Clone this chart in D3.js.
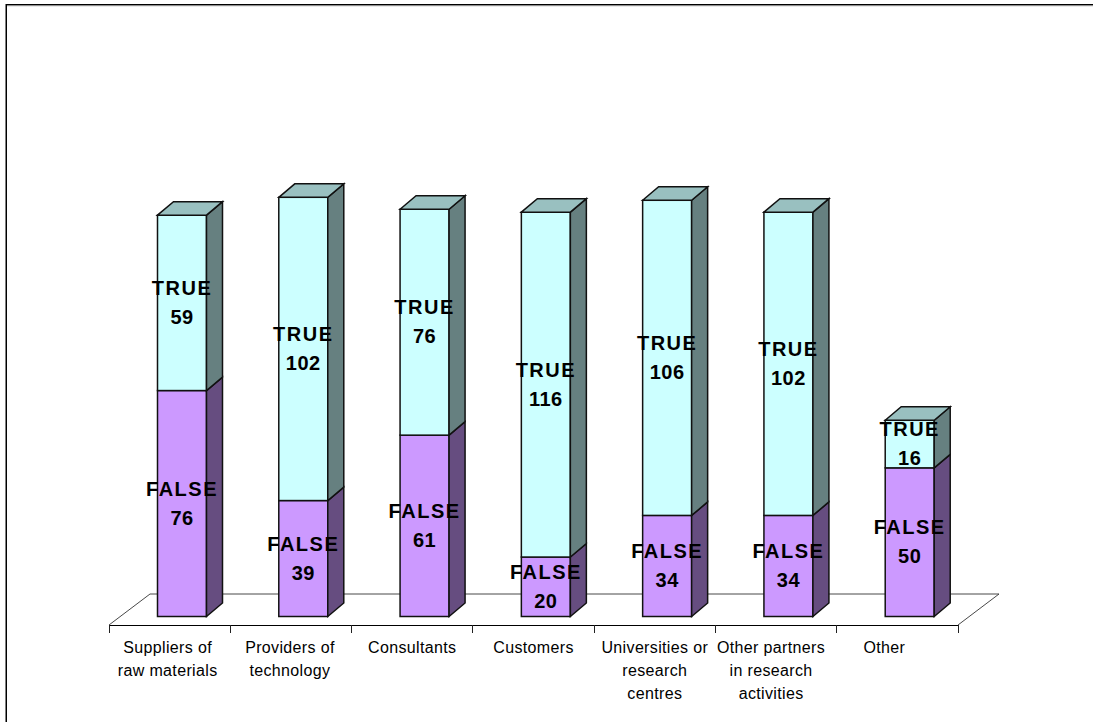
<!DOCTYPE html>
<html>
<head>
  <meta charset="utf-8">
  <title>Stacked 3D columns</title>
  <script src="https://cdnjs.cloudflare.com/ajax/libs/d3/7.8.5/d3.min.js"></script>
  <style>
    html, body { margin: 0; padding: 0; background: #fff; }
    svg { display: block; }
    text { font-family: "Liberation Sans", Arial, sans-serif; fill: #000; }
  </style>
</head>
<body>
<svg id="chart" width="1093" height="722"></svg>
<script>
  var categories = [
    ['Suppliers of', 'raw materials'],
    ['Providers of', 'technology'],
    ['Consultants'],
    ['Customers'],
    ['Universities or', 'research', 'centres'],
    ['Other partners', 'in research', 'activities'],
    ['Other']
  ];
  var falseValues = [76, 39, 61, 20, 34, 34, 50];
  var trueValues = [59, 102, 76, 116, 106, 102, 16];

  var depthX = 16, depthY = 13.5;   // bar extrusion
  var floorX = 41, floorY = 31;     // floor extrusion
  var barW = 49;
  var labelNudge = [-2, -1, 0, 0, 0, -5, -13];   // category labels sit off centre

  var svg = d3.select('#chart');

  // page frame, only top and left are visible
  svg.append('path')
    .attr('d', 'M6.25,722V4.75H1093')
    .attr('fill', 'none').attr('stroke', '#000').attr('stroke-width', 1.5);
  svg.append('line')
    .attr('x1', 7).attr('x2', 1093).attr('y1', 5.75).attr('y2', 5.75)
    .attr('stroke', '#999').attr('stroke-width', 0.8);

  var x = d3.scaleBand().domain(d3.range(categories.length)).range([109, 958]);
  var y = d3.scaleLinear().domain([0, 100]).range([616.5, 319.2]);
  var floorFront = 625;

  // floor
  svg.append('path')
    .attr('d', 'M109,' + floorFront + 'L' + (109 + floorX) + ',' + (floorFront - floorY) +
      'L' + (958 + floorX) + ',' + (floorFront - floorY) + 'L958,' + floorFront)
    .attr('fill', '#fff').attr('stroke', '#333').attr('stroke-width', 0.9);
  svg.append('line')
    .attr('x1', 109).attr('x2', 958).attr('y1', floorFront + 0.5).attr('y2', floorFront + 0.5)
    .attr('stroke', '#000').attr('stroke-width', 1);

  // ticks
  svg.selectAll('line.tick')
    .data(d3.range(categories.length + 1))
    .enter().append('line')
    .attr('class', 'tick')
    .attr('x1', function(d) { return Math.floor(109 + d * x.step()) + 0.5; })
    .attr('x2', function(d) { return Math.floor(109 + d * x.step()) + 0.5; })
    .attr('y1', floorFront).attr('y2', floorFront + 8)
    .attr('stroke', '#222').attr('stroke-width', 1);

  // flatten the two series into segments
  var segments = [];
  categories.forEach(function(c, i) {
    segments.push({i: i, name: 'FALSE', v: falseValues[i], y0: 0, y1: falseValues[i],
      front: '#cc99ff', side: '#664d80', top: '#664d80'});
    segments.push({i: i, name: 'TRUE', v: trueValues[i], y0: falseValues[i], y1: falseValues[i] + trueValues[i],
      front: '#ccffff', side: '#668080', top: '#99c0c0'});
  });

  function barX(i) { return x(i) + 48.5; }

  var bars = svg.selectAll('g.seg').data(segments).enter().append('g').attr('class', 'seg');

  bars.append('rect')
    .attr('x', function(d) { return barX(d.i); })
    .attr('y', function(d) { return y(d.y1); })
    .attr('width', barW)
    .attr('height', function(d) { return y(d.y0) - y(d.y1); })
    .attr('fill', function(d) { return d.front; })
    .attr('stroke', '#111').attr('stroke-width', 1.5);

  bars.append('path')
    .attr('d', function(d) {
      var r = barX(d.i) + barW;
      return 'M' + r + ',' + y(d.y0) + 'L' + (r + depthX) + ',' + (y(d.y0) - depthY) +
        'L' + (r + depthX) + ',' + (y(d.y1) - depthY) + 'L' + r + ',' + y(d.y1) + 'Z';
    })
    .attr('fill', function(d) { return d.side; })
    .attr('stroke', '#111').attr('stroke-width', 1.5);

  // lid only on the upper segment
  bars.filter(function(d) { return d.name === 'TRUE'; }).append('path')
    .attr('d', function(d) {
      var l = barX(d.i), t = y(d.y1);
      return 'M' + l + ',' + t + 'L' + (l + depthX) + ',' + (t - depthY) +
        'L' + (l + barW + depthX) + ',' + (t - depthY) + 'L' + (l + barW) + ',' + t + 'Z';
    })
    .attr('fill', function(d) { return d.top; })
    .attr('stroke', '#111').attr('stroke-width', 1.5);

  // data labels
  var labels = svg.selectAll('g.lab').data(segments).enter().append('g').attr('class', 'lab')
    .attr('transform', function(d) {
      return 'translate(' + (barX(d.i) + barW / 2) + ',' + ((y(d.y0) + y(d.y1)) / 2) + ')';
    })
    .attr('font-size', 20).attr('font-weight', 'bold').attr('text-anchor', 'middle');
  labels.append('text').attr('y', -8).attr('letter-spacing', 1.5).text(function(d) { return d.name; });
  labels.append('text').attr('y', 21).attr('letter-spacing', 0.5).text(function(d) { return d.v; });

  // category labels
  var cats = svg.selectAll('text.cat').data(categories).enter().append('text')
    .attr('class', 'cat')
    .attr('font-size', 16).attr('text-anchor', 'middle').attr('letter-spacing', 0.35).attr('fill', '#111');
  cats.selectAll('tspan').data(function(d, i) { return d.map(function(s) { return {s: s, i: i}; }); })
    .enter().append('tspan')
    .attr('x', function(d) { return x(d.i) + x.step() / 2 + labelNudge[d.i]; })
    .attr('y', function(d, j) { return 653 + j * 23; })
    .text(function(d) { return d.s; });
</script>
</body>
</html>
